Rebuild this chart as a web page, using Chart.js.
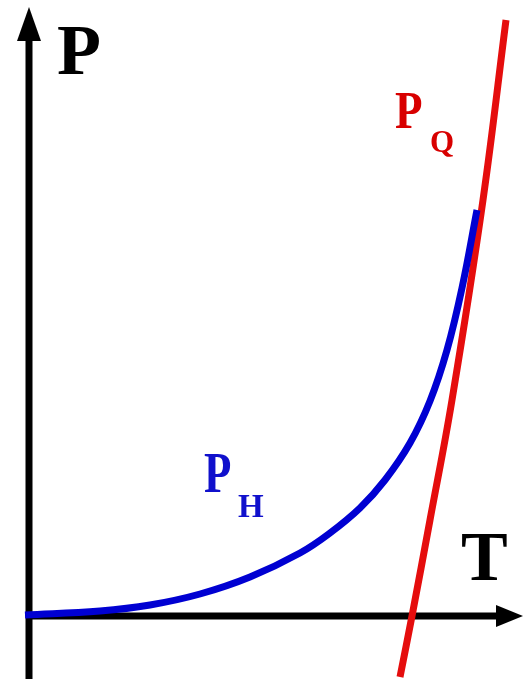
<!DOCTYPE html>
<html>
<head>
<meta charset="utf-8">
<script src="https://cdn.jsdelivr.net/npm/chart.js@4"></script>
<style>
  html, body { margin: 0; padding: 0; background: #fff; }
  canvas { display: block; }
</style>
</head>
<body>
<canvas id="chart" width="524" height="679"></canvas>
<script>
// origin of the sketch is where the two axes meet
const tRange = [-0.29, 4.95];
const pRange = [-0.63, 6.16];

// P_H curve
const heatT = [-0.04, 0.71, 1.21, 1.71, 2.21, 2.71, 3.01, 3.31, 3.56, 3.81, 4.01, 4.18, 4.33, 4.48];
const heatP = [0.01, 0.05, 0.11, 0.22, 0.39, 0.63, 0.83, 1.08, 1.36, 1.73, 2.15, 2.66, 3.28, 4.06];

// P_Q line
const lossT = [3.71, 3.83, 4.01, 4.23, 4.54, 4.77];
const lossP = [-0.61, 0, 0.96, 2.16, 4.16, 5.96];

// axis extents (arrow tips)
const tAxisEnd = 4.94;
const pAxisEnd = 6.09;

const toPoints = (xs, ys) => xs.map((x, i) => ({ x: x, y: ys[i] }));

const sketchPlugin = {
  id: "sketch",
  beforeDatasetsDraw(chart) {
    const ctx = chart.ctx;
    const xs = chart.scales.x;
    const ys = chart.scales.y;
    const x0 = xs.getPixelForValue(0);
    const y0 = ys.getPixelForValue(0);
    const xEnd = xs.getPixelForValue(tAxisEnd);
    const yEnd = ys.getPixelForValue(pAxisEnd);
    const yBottom = ys.getPixelForValue(pRange[0]);

    ctx.save();
    ctx.strokeStyle = "#000";
    ctx.fillStyle = "#000";
    ctx.lineWidth = 7;
    ctx.beginPath();
    ctx.moveTo(x0, yBottom);
    ctx.lineTo(x0, yEnd + 20);
    ctx.moveTo(x0, y0);
    ctx.lineTo(xEnd - 20, y0);
    ctx.stroke();

    // arrow heads
    ctx.beginPath();
    ctx.moveTo(x0, yEnd);
    ctx.lineTo(x0 - 12, yEnd + 34);
    ctx.lineTo(x0 + 12, yEnd + 34);
    ctx.closePath();
    ctx.fill();
    ctx.beginPath();
    ctx.moveTo(xEnd, y0);
    ctx.lineTo(xEnd - 27, y0 - 11);
    ctx.lineTo(xEnd - 27, y0 + 11);
    ctx.closePath();
    ctx.fill();
    ctx.restore();
  },
  afterDatasetsDraw(chart) {
    const ctx = chart.ctx;
    const serif = '"Liberation Serif", "DejaVu Serif", serif';
    ctx.save();
    ctx.textBaseline = "alphabetic";
    ctx.textAlign = "left";

    ctx.fillStyle = "#000";
    ctx.font = "bold 72px " + serif;
    ctx.fillText("P", 57, 74);
    ctx.font = "bold 70px " + serif;
    ctx.fillText("T", 461, 580);

    // P_Q
    ctx.fillStyle = "#d80000";
    ctx.save();
    ctx.translate(395, 128);
    ctx.scale(0.85, 1);
    ctx.font = "bold 53px " + serif;
    ctx.fillText("P", 0, 0);
    ctx.restore();
    ctx.font = "bold 31px " + serif;
    ctx.fillText("Q", 430, 152);

    // P_H
    ctx.fillStyle = "#1010cc";
    ctx.save();
    ctx.translate(204, 492);
    ctx.scale(0.8, 1);
    ctx.font = "bold 56px " + serif;
    ctx.fillText("P", 0, 0);
    ctx.restore();
    ctx.font = "bold 33px " + serif;
    ctx.fillText("H", 238, 517);
    ctx.restore();
  }
};

new Chart(document.getElementById("chart"), {
  type: "scatter",
  data: {
    datasets: [
      {
        label: "P_H",
        data: toPoints(heatT, heatP),
        showLine: true,
        borderColor: "#0000d2",
        borderWidth: 7,
        pointRadius: 0,
        tension: 0.4
      },
      {
        label: "P_Q",
        data: toPoints(lossT, lossP),
        showLine: true,
        borderColor: "#e50d0d",
        borderWidth: 7,
        pointRadius: 0,
        tension: 0.4
      }
    ]
  },
  options: {
    responsive: false,
    animation: false,
    devicePixelRatio: 1,
    layout: { padding: 0 },
    plugins: {
      legend: { display: false },
      tooltip: { enabled: false }
    },
    scales: {
      x: { type: "linear", min: tRange[0], max: tRange[1], display: false },
      y: { type: "linear", min: pRange[0], max: pRange[1], display: false }
    }
  },
  plugins: [sketchPlugin]
});
</script>
</body>
</html>
